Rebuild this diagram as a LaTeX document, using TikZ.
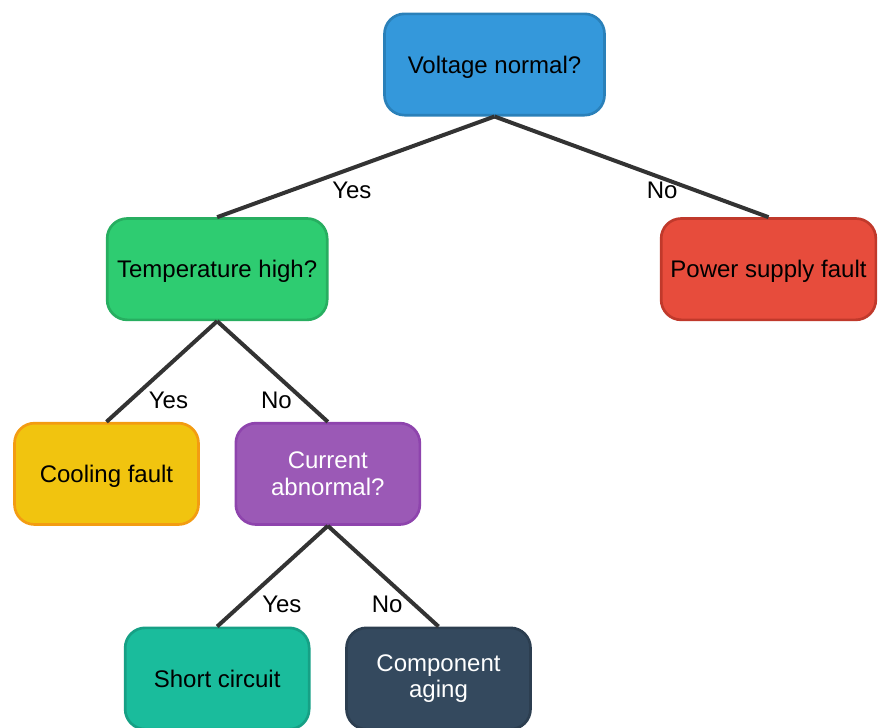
\documentclass[tikz,border=0pt]{standalone}
\usepackage{fontspec}
\setmainfont{Liberation Sans}
\usetikzlibrary{positioning}

\definecolor{askfill}{HTML}{3498DB}
\definecolor{askline}{HTML}{2A80B9}
\definecolor{tempfill}{HTML}{2ECC71}
\definecolor{templine}{HTML}{27AE60}
\definecolor{powfill}{HTML}{E74C3C}
\definecolor{powline}{HTML}{C0392B}
\definecolor{coolfill}{HTML}{F1C40F}
\definecolor{coolline}{HTML}{F39C12}
\definecolor{curfill}{HTML}{9B59B6}
\definecolor{curline}{HTML}{8E44AD}
\definecolor{shortfill}{HTML}{1ABC9C}
\definecolor{shortline}{HTML}{16A085}
\definecolor{agefill}{HTML}{34495E}
\definecolor{ageline}{HTML}{2C3E50}
\definecolor{wire}{HTML}{333333}

\begin{document}
\begin{tikzpicture}[
    x=0.75pt, y=-0.75pt,
    node distance=75.5pt and 0pt,
    box/.style={rectangle, rounded corners=15pt, line width=2pt,
      minimum width=138pt, minimum height=76pt, align=center,
      font=\fontsize{18}{20}\selectfont, inner sep=3pt},
    widebox/.style={box, minimum width=165pt},
    oneline/.style={text depth=0pt},
    link/.style={draw=wire, line width=3pt},
    lbl/.style={font=\fontsize{18}{20}\selectfont, inner sep=0pt}
  ]
  \useasboundingbox (0,0) rectangle (879,728);

  \node[widebox, oneline, fill=askfill, draw=askline] at (494.5,64.5) (volt) {Voltage normal?};
  \node[widebox, oneline, fill=tempfill, draw=templine, below=of volt, xshift=-208pt] (temp) {Temperature high?};
  \node[widebox, oneline, fill=powfill, draw=powline, minimum width=161pt, below=of volt, xshift=205.5pt] (pow) {Power supply fault};
  \node[box, oneline, fill=coolfill, draw=coolline, below=of temp, xshift=-83pt] (cool) {Cooling fault};
  \node[box, fill=curfill, draw=curline, text=white, below=of temp, xshift=83pt] (cur) {Current\\abnormal?};
  \node[box, fill=shortfill, draw=shortline, below=of cur, xshift=-83pt] (short) {Short circuit};
  \node[box, fill=agefill, draw=ageline, text=white, below=of cur, xshift=83pt] (age) {Component\\aging};

  \draw[link] (volt.south) -- (temp.north) node[lbl, midway, xshift=-3pt, yshift=-18pt] {Yes};
  \draw[link] (volt.south) -- (pow.north)  node[lbl, midway, xshift=23pt, yshift=-18pt] {No};
  \draw[link] (temp.south) -- (cool.north) node[lbl, midway, xshift=5pt, yshift=-22pt] {Yes};
  \draw[link] (temp.south) -- (cur.north)  node[lbl, midway, xshift=3pt, yshift=-22pt] {No};
  \draw[link] (cur.south)  -- (short.north) node[lbl, midway, xshift=7pt, yshift=-21pt] {Yes};
  \draw[link] (cur.south)  -- (age.north)  node[lbl, midway, xshift=3pt, yshift=-21pt] {No};
\end{tikzpicture}
\end{document}
